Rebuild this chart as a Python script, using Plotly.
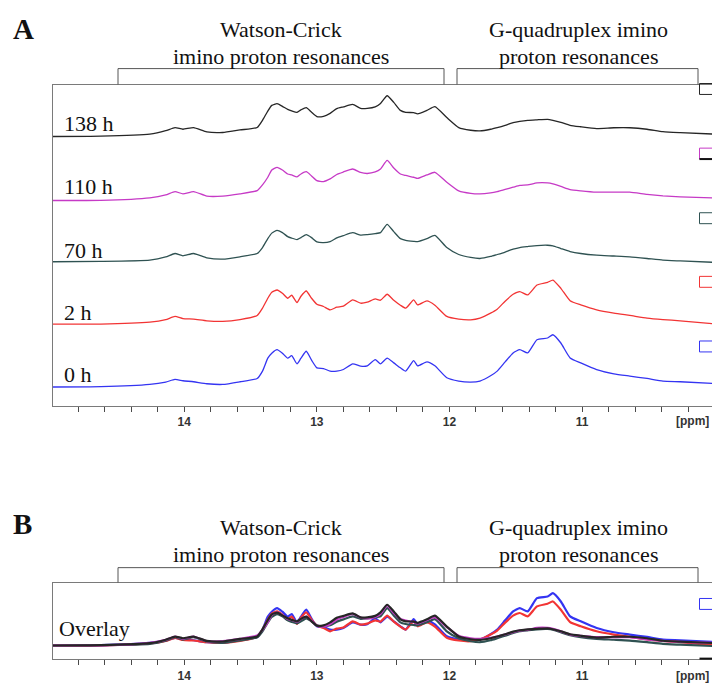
import plotly.graph_objects as go

# ---------------- data ----------------
ppm = [15.0, 14.63, 14.26, 14.14, 14.07, 14.01, 13.93, 13.83, 13.71, 13.58,
       13.45, 13.41, 13.37, 13.34, 13.30, 13.26, 13.22, 13.19, 13.15, 13.12,
       13.08, 13.04, 13.00, 12.95, 12.90, 12.85, 12.80, 12.73, 12.67, 12.62,
       12.56, 12.52, 12.47, 12.42, 12.37, 12.33, 12.27, 12.24, 12.17, 12.11,
       12.02, 11.93, 11.84, 11.77, 11.69, 11.64, 11.58, 11.52, 11.47, 11.41,
       11.34, 11.26, 11.22, 11.16, 11.09, 11.01, 10.89, 10.76, 10.64, 10.51,
       10.39, 10.26, 9.98]

int_0h = [0, 0.3, 2.6, 5, 7.6, 6.3, 5.3, 3.3, 2.6, 5.3,
          8.6, 16, 29, 34, 37.6, 34, 29, 31.6, 23.3, 29,
          36, 27, 19.3, 18.6, 16, 16, 17.6, 23.3, 21, 21.3,
          27.6, 23.3, 29, 24.3, 19.3, 16, 26.6, 21.3, 25.3, 21.3,
          9.3, 6, 5, 6, 11.3, 16, 25.3, 34.3, 37.6, 34.3,
          47.6, 49.3, 52.6, 44.3, 29.3, 24.3, 17.6, 13.3, 11, 8.6,
          6, 5.3, 3.3]
int_2h = [0, 0, 2, 4.5, 7.7, 5.5, 5, 3.3, 2.7, 4.5,
          8.7, 16, 26, 32, 34.3, 31, 26, 29, 21.7, 28,
          33.3, 26, 20, 17.7, 14.3, 17, 18, 24.3, 21, 22,
          25.3, 24, 30, 24, 19, 16, 24.3, 19.3, 23.3, 19,
          7.7, 5, 4.3, 6, 11, 15, 23, 30, 32.7, 29.3,
          39.3, 42, 44.3, 36, 23.5, 19.3, 14.3, 11, 8.7, 6,
          4.5, 3.3, 0]
int_70h = [0, 0.3, 1.6, 4.8, 8.3, 6, 8.3, 4, 2.6, 5,
           8.3, 14.3, 23.3, 28.8, 31.6, 29.3, 25.3, 23.8, 22.3, 24.3,
           27.3, 24.3, 20, 19.3, 20.3, 24, 26.3, 29.3, 26.8, 27.3,
           28.3, 29.3, 37.6, 30.3, 23.3, 21.6, 20.6, 20.3, 23.3, 26.6,
           14.3, 7.3, 4.3, 3.3, 5.3, 7.3, 9.8, 12.6, 14.3, 15.3,
           16.3, 16.6, 16, 13.3, 10.3, 8.3, 6.6, 5.8, 5, 3.3,
           1.6, 0.8, -0.7]
int_110h = [0, 0.2, 2.7, 5.7, 9, 6.7, 9, 4.4, 4.4, 6.7,
            10, 15.7, 23.4, 30.7, 33.4, 30.7, 26.7, 25.7, 23.7, 26.7,
            29, 24.7, 20, 19, 21.7, 26.2, 28.7, 31.7, 28.2, 27.2,
            28.7, 31.7, 40.4, 32.7, 26.7, 25.2, 23.4, 22.2, 25.7, 28.4,
            18.4, 9.7, 7.2, 6.7, 7.7, 9, 11.2, 13.4, 15.2, 15.7,
            17.7, 17.7, 16.7, 14.2, 11, 9.7, 8.4, 8.4, 8.4, 6.2,
            4.7, 3.7, 2.4]
int_138h = [0, 0.3, 2.3, 5.8, 9, 7.3, 9, 4.6, 4, 6.6,
            9, 16.3, 25.6, 31.3, 33, 30.3, 27.3, 25.8, 24.3, 26.8,
            29, 24.3, 20, 20.3, 23.3, 28, 29.8, 32.3, 28.3, 28.3,
            29.8, 33.3, 41, 34.3, 26.3, 24.3, 24, 22.8, 26.3, 30,
            19, 9, 6.3, 5.6, 7.3, 9, 11.3, 14, 15.3, 16.3,
            16.8, 17.3, 16.3, 14.3, 11.3, 9.8, 8, 8.8, 8.8, 7.3,
            4.8, 3.8, 2.3]

labels = ["0 h", "2 h", "70 h", "110 h", "138 h"]
tick_vals = [14, 13, 12, 11]
tick_text = ["14", "13", "12", "11"]

# ---------------- styling / layout ----------------
W, H = 712, 683
def fx(p):
    return p / W
def fy(p):
    return 1 - p / H

series = [int_0h, int_2h, int_70h, int_110h, int_138h]
colors = ["#3434f2", "#f23434", "#2f5252", "#c63ac6", "#262626"]
offsets_a = [18.7, 82, 144.7, 206.3, 270.7]   # stack offsets (panel A)
label_y = [377, 314, 252, 188, 124]
box_top = [84, 149, 214, 278, 343][::-1]
base_b = 13.7

fig = go.Figure()
for s, c, off in zip(series, colors, offsets_a):
    fig.add_trace(go.Scatter(x=ppm, y=[v + off for v in s], mode="lines",
                             line=dict(color=c, width=1.3, shape="spline", smoothing=0.5),
                             xaxis="x", yaxis="y", showlegend=False, hoverinfo="skip"))
for s, c in zip(series, colors):
    fig.add_trace(go.Scatter(x=ppm, y=[v + base_b for v in s], mode="lines",
                             line=dict(color=c, width=2.2, shape="spline", smoothing=0.5),
                             xaxis="x2", yaxis="y2", showlegend=False, hoverinfo="skip"))

frame = "#7a7a7a"
tickc = "#4a4a4a"
tickfont = dict(family="Liberation Sans", size=12, color="#333")
def xax(dom_anchor):
    return dict(domain=[fx(53), 1], range=[14.99, 10.02], showline=True, linecolor=frame,
                linewidth=1, mirror=True, ticks="outside", ticklen=5, tickcolor=tickc,
                tickvals=tick_vals, ticktext=["<b>%s</b>" % t for t in tick_text],
                tickfont=tickfont, showgrid=False, zeroline=False, anchor=dom_anchor,
                minor=dict(dtick=0.2, tick0=0, ticks="outside", ticklen=5,
                           tickcolor=tickc, showgrid=False))
def yax(dom, rng, anchor):
    return dict(domain=dom, range=rng, showline=True, linecolor=frame, linewidth=1,
                ticks="", showticklabels=False, showgrid=False, zeroline=False, anchor=anchor)

serif = "Liberation Serif"
P = dict(xref="paper", yref="paper", showarrow=False)
ann = []
for lab, yy in zip(labels, label_y):
    ann.append(dict(x=fx(62), y=fy(yy), text=lab, xanchor="left", yanchor="middle",
                    font=dict(family=serif, size=22, color="#111"), **P))
ann.append(dict(x=fx(57), y=fy(632), text="Overlay", xanchor="left", yanchor="middle",
                font=dict(family=serif, size=22, color="#111"), **P))
for letter, yy in [("A", 29), ("B", 527)]:
    ann.append(dict(x=fx(11), y=fy(yy), text="<b>%s</b>" % letter, xanchor="left",
                    yanchor="middle", font=dict(family=serif, size=29, color="#111"), **P))
for dy in (0, 501):
    for txt, cx, yy in [("Watson-Crick", 281, 30), ("imino proton resonances", 281, 57),
                        ("G-quadruplex imino", 578, 30), ("proton resonances", 578, 57)]:
        ann.append(dict(x=fx(cx), y=fy(yy + dy), text=txt, xanchor="center", yanchor="middle",
                        font=dict(family=serif, size=22, color="#111"), **P))
for yy in (423, 680):
    ann.append(dict(x=fx(692), y=fy(yy), text="<b>[ppm]</b>", xanchor="center",
                    yanchor="middle", font=tickfont, **P))

shapes = []
lc = dict(color="#555", width=1)
for top, bot in [(69, 85), (571, 586)]:
    for x0, x1 in [(118, 444), (457, 698)]:
        shapes.append(dict(type="line", xref="paper", yref="paper", x0=fx(x0), x1=fx(x1),
                           y0=fy(top), y1=fy(top), line=lc))
        for xx in (x0, x1):
            shapes.append(dict(type="line", xref="paper", yref="paper", x0=fx(xx), x1=fx(xx),
                               y0=fy(top), y1=fy(bot), line=lc))
for c, t in zip(colors, box_top):
    shapes.append(dict(type="rect", xref="paper", yref="paper", x0=fx(699.5), x1=fx(720),
                       y0=fy(t), y1=fy(t + 11), line=dict(color=c, width=1)))
shapes.append(dict(type="line", xref="paper", yref="paper", x0=fx(699.5), x1=fx(720),
                   y0=fy(160), y1=fy(160), line=dict(color="#111", width=2)))
shapes.append(dict(type="rect", xref="paper", yref="paper", x0=fx(699.5), x1=fx(720),
                   y0=fy(602), y1=fy(613), line=dict(color=colors[0], width=1)))
shapes.append(dict(type="line", xref="paper", yref="paper", x0=fx(699.5), x1=fx(720),
                   y0=fy(662.5), y1=fy(662.5), line=dict(color="#111", width=2)))

fig.update_layout(
    width=W, height=H, autosize=False,
    margin=dict(l=0, r=0, t=0, b=0),
    paper_bgcolor="white", plot_bgcolor="white",
    xaxis=xax("y"), yaxis=yax([fy(408), fy(85)], [0, 323], "x"),
    xaxis2=xax("y2"), yaxis2=yax([fy(663), fy(586)], [0, 77], "x2"),
    annotations=ann, shapes=shapes,
)
fig.write_html(
    "out.html",
    config={"displayModeBar": False, "staticPlot": True},
    post_script="document.body.style.margin='0px';document.body.style.overflow='hidden';",
)
